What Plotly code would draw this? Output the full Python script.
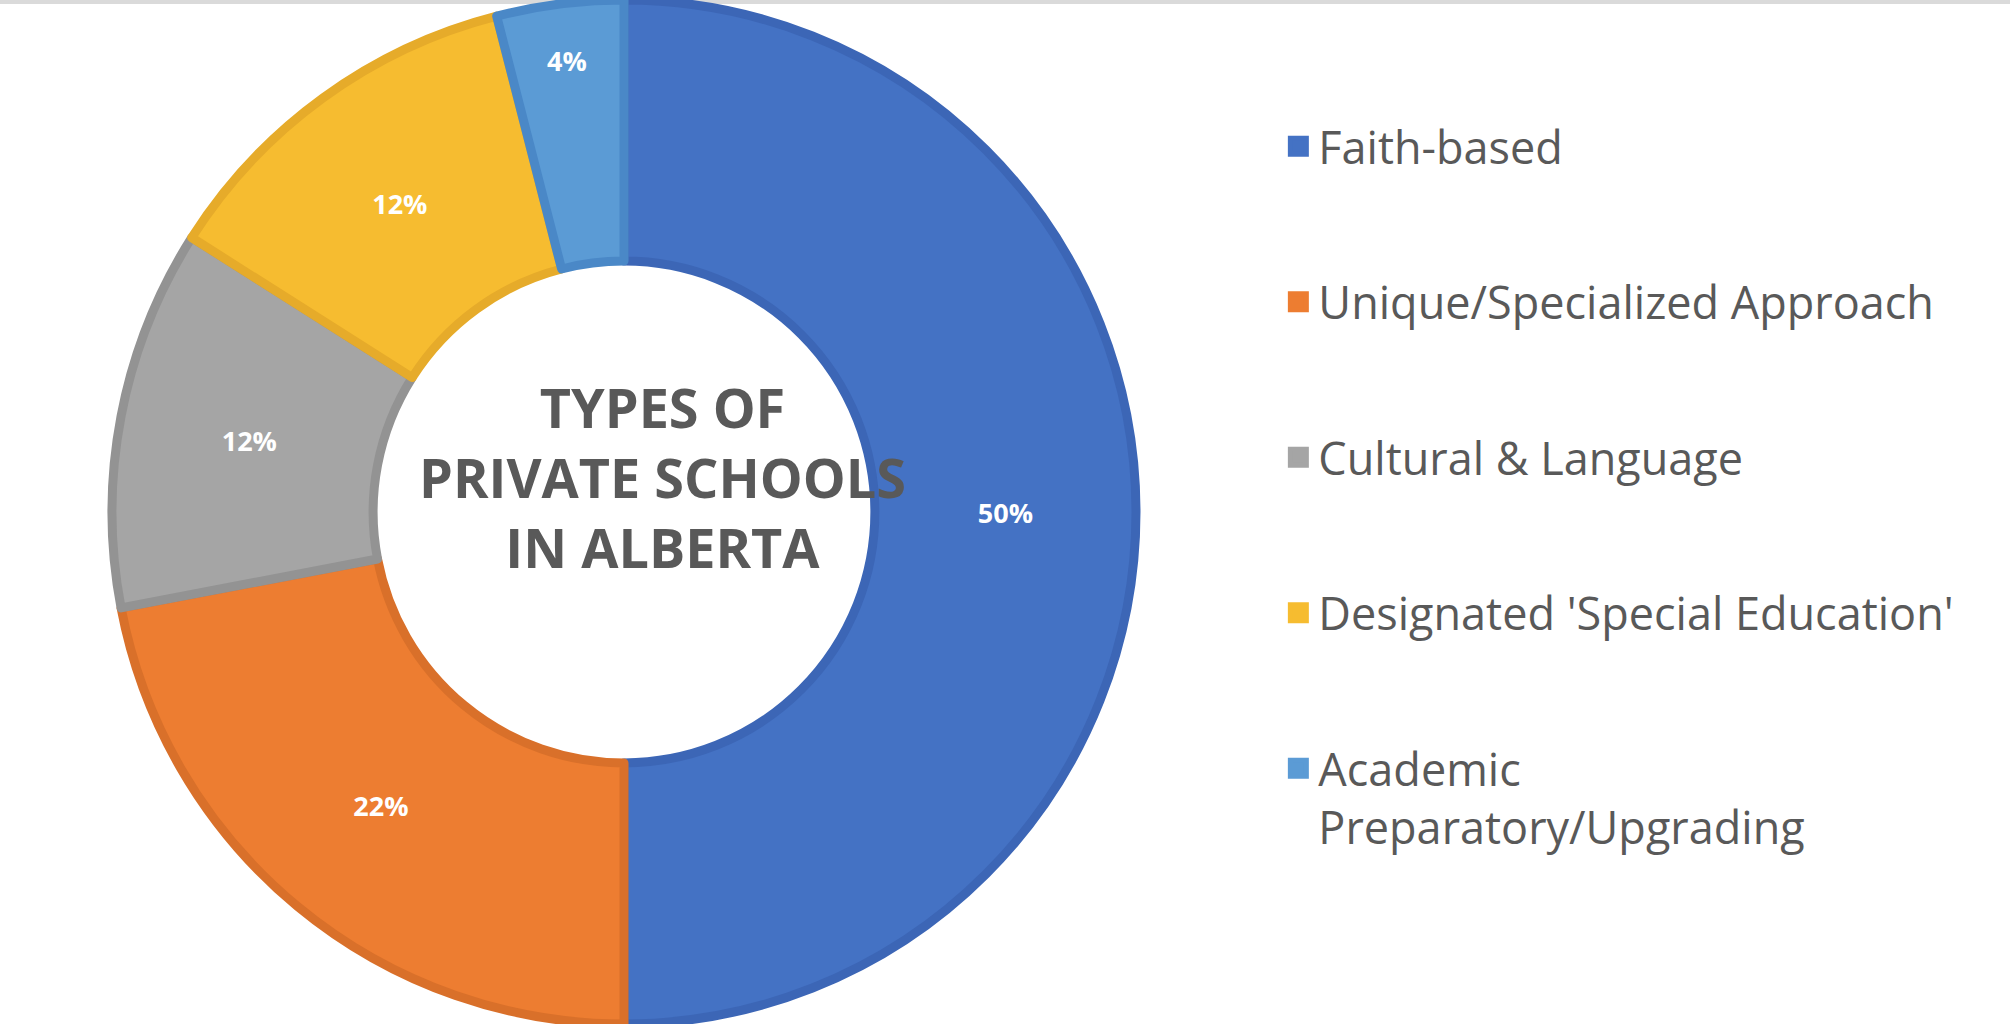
import plotly.graph_objects as go

# ---- data ----
categories = [
    "Faith-based",
    "Unique/Specialized Approach",
    "Cultural & Language",
    "Designated 'Special Education'",
    "Academic<br>Preparatory/Upgrading",
]
shares = [50, 22, 12, 12, 4]
slice_labels = ["50%", "22%", "12%", "12%", "4%"]
fill_colors = ["#4472C4", "#ED7D31", "#A5A5A5", "#F6BC30", "#5B9BD5"]
edge_colors = ["#3C66B6", "#D9702A", "#939393", "#E6AB2A", "#4A88C7"]
center_title = "TYPES OF<br>PRIVATE SCHOOLS<br>IN ALBERTA"

W, H = 2010, 1024
cx, cy, r = 624, 510, 512

fig = go.Figure()
fig.add_trace(go.Pie(
    labels=categories,
    values=shares,
    text=slice_labels,
    textinfo="text",
    textposition="inside",
    insidetextorientation="horizontal",
    textfont=dict(family="Open Sans", size=27, color="white", weight=700),
    hole=0.49,
    sort=False,
    direction="clockwise",
    rotation=0,
    marker=dict(colors=fill_colors, line=dict(color=edge_colors, width=9)),
    domain=dict(x=[(cx - r) / W, (cx + r) / W], y=[0, 1]),
    showlegend=False,
))

for name, c in zip(categories, fill_colors):
    fig.add_trace(go.Scatter(
        x=[None], y=[None], mode="markers", name=name, legendgroup=name,
        marker=dict(symbol="square", size=16, color=c, line=dict(color=c, width=5)),
        showlegend=True, hoverinfo="skip",
    ))

fig.add_annotation(
    text=center_title, x=662 / W, y=1 - 477 / H, xref="paper", yref="paper",
    showarrow=False, xanchor="center", yanchor="middle", align="center",
    font=dict(family="Open Sans", size=54, color="#595959", weight=700),
)

fig.add_shape(type="rect", xref="paper", yref="paper", x0=0, x1=1,
              y0=1 - 4 / H, y1=1, fillcolor="#DADADA", line=dict(width=0), layer="below")

fig.update_layout(
    width=W, height=H,
    margin=dict(l=0, r=0, t=0, b=0),
    paper_bgcolor="white", plot_bgcolor="white",
    xaxis=dict(visible=False), yaxis=dict(visible=False),
    legend=dict(
        x=0.636, xanchor="left", y=0.892, yanchor="top",
        font=dict(family="Open Sans", size=45, color="#595959"),
        tracegroupgap=94, valign="top", bgcolor="rgba(0,0,0,0)",
        itemclick=False,
    ),
)

fig.write_html("out.html")
